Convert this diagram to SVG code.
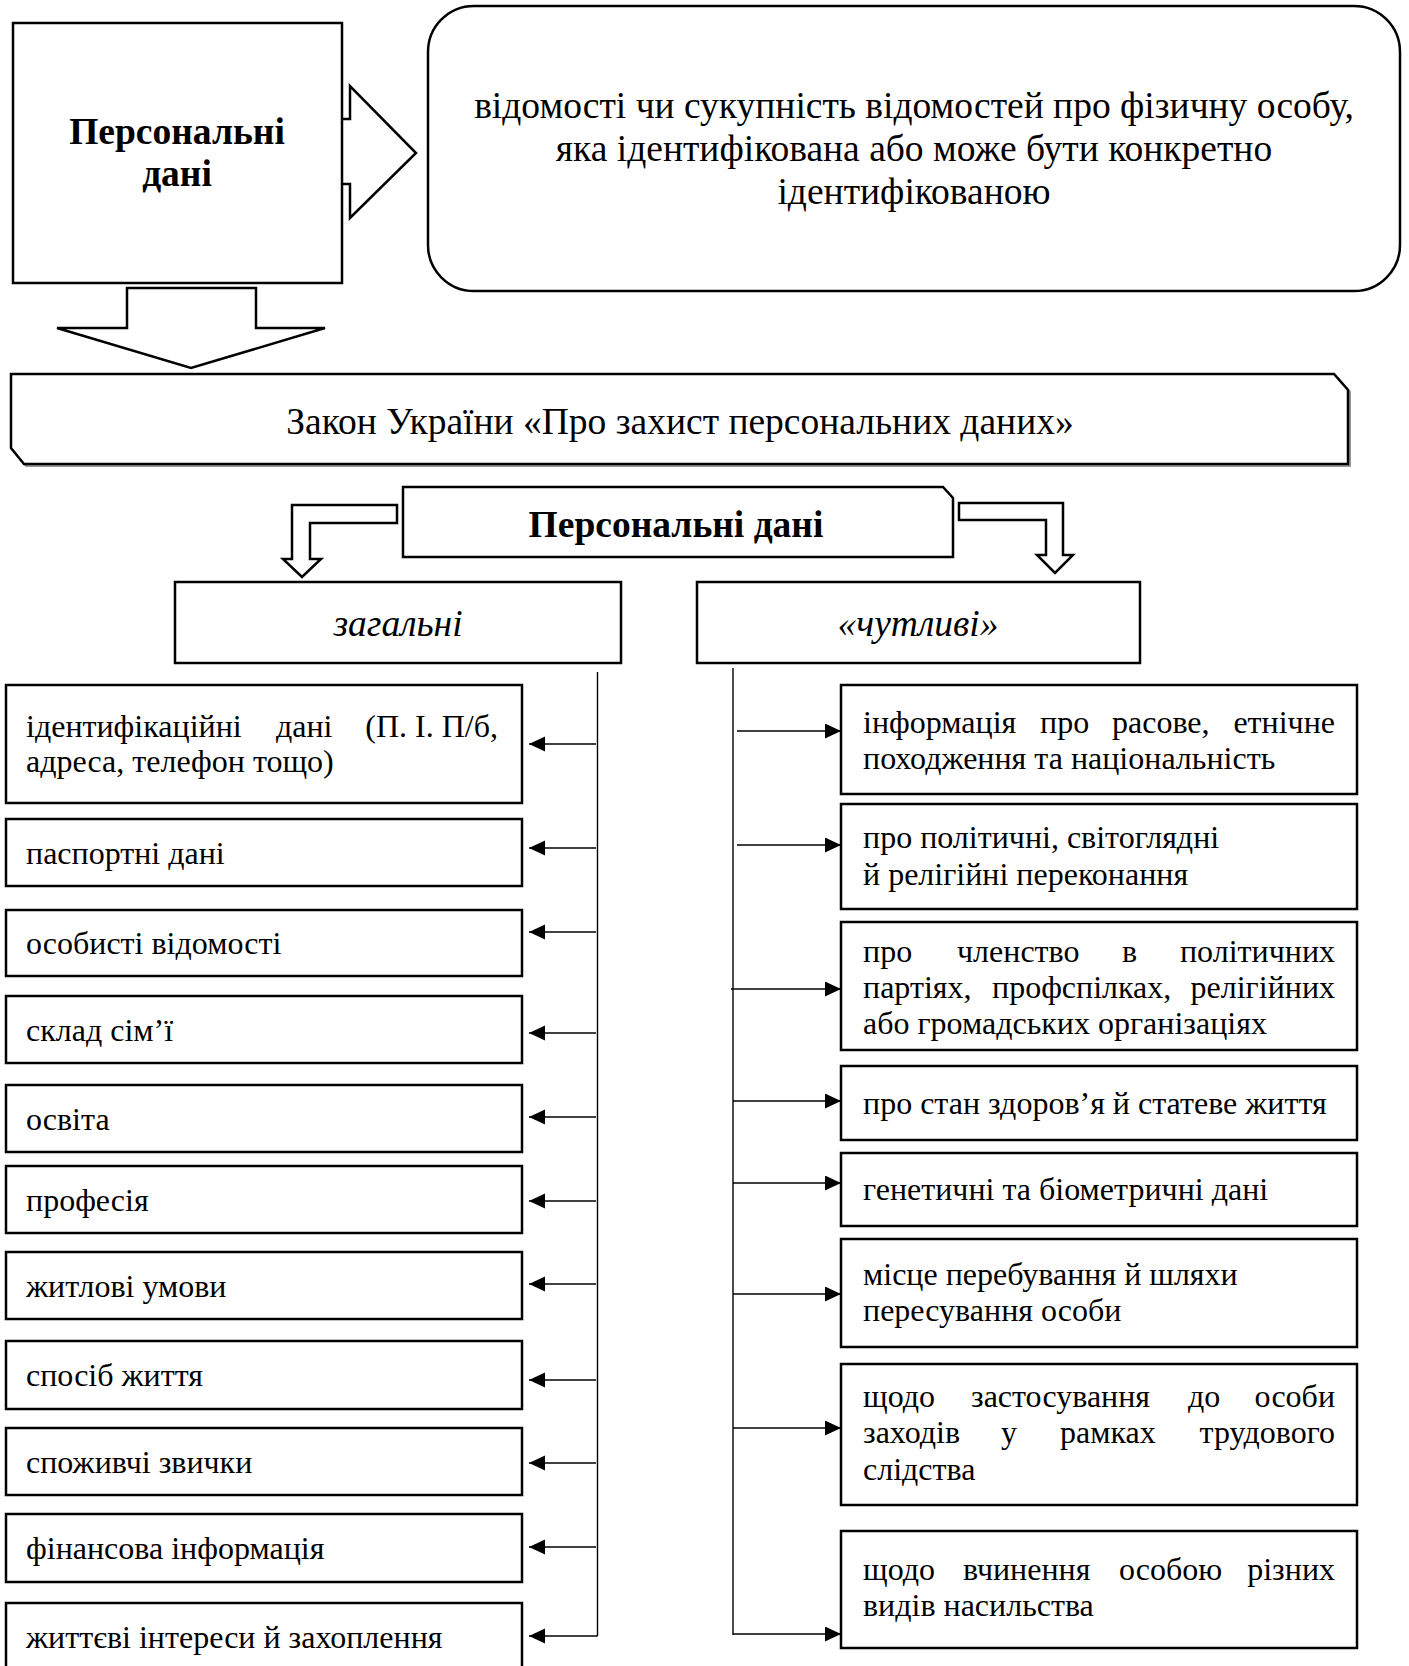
<svg xmlns="http://www.w3.org/2000/svg" width="1409" height="1666" viewBox="0 0 1409 1666">
<defs>
<style>
.box{fill:#fff;stroke:#000;stroke-width:2.5}
.blk{fill:#fff;stroke:#000;stroke-width:2.5;stroke-linejoin:miter}
.t{font-family:"Liberation Serif","Times New Roman",serif;font-size:32px;fill:#000}
.h{font-size:37.5px}
.b{font-weight:bold}
.i{font-style:italic}
.c{text-anchor:middle}
.e{text-anchor:end}
.conn{stroke:#000;stroke-width:1.4;fill:none}
.arr{stroke:#000;stroke-width:1.4;fill:none;marker-end:url(#ah)}
</style>
<marker id="ah" markerUnits="userSpaceOnUse" markerWidth="17" markerHeight="16" refX="16" refY="7.5" orient="auto">
<path d="M0,0 L16,7.5 L0,15 z" fill="#000"/>
</marker>
</defs>
<rect width="1409" height="1666" fill="#fff"/>

<g id="connectors">
<path class="blk" d="M342,119 L350,119 L350,86 L416,153 L350,218 L350,184 L342,184"/>
<path class="blk" d="M127,288 L256,288 L256,328 L325,328 L191,368 L57,328 L127,328 z"/>
<path class="blk" d="M397,505 L292,505 L292,559 L283,559 L302,577 L321,559 L310,559 L310,523 L397,523 z"/>
<path class="blk" d="M959,503 L1063,503 L1063,555 L1073,555 L1055,573 L1037,555 L1046,555 L1046,520 L959,520 z"/>
<line class="conn" x1="597.5" y1="672" x2="597.5" y2="1636"/>
<line class="conn" x1="733" y1="668" x2="733" y2="1635"/>
<line class="arr" x1="596" y1="744" x2="529" y2="744"/>
<line class="arr" x1="596" y1="848" x2="529" y2="848"/>
<line class="arr" x1="596" y1="932" x2="529" y2="932"/>
<line class="arr" x1="596" y1="1033" x2="529" y2="1033"/>
<line class="arr" x1="596" y1="1117" x2="529" y2="1117"/>
<line class="arr" x1="596" y1="1201" x2="529" y2="1201"/>
<line class="arr" x1="596" y1="1284" x2="529" y2="1284"/>
<line class="arr" x1="596" y1="1380" x2="529" y2="1380"/>
<line class="arr" x1="596" y1="1463" x2="529" y2="1463"/>
<line class="arr" x1="596" y1="1547" x2="529" y2="1547"/>
<line class="arr" x1="597.5" y1="1636" x2="529" y2="1636"/>
<line class="arr" x1="737" y1="731" x2="841" y2="731"/>
<line class="arr" x1="737" y1="845" x2="841" y2="845"/>
<line class="arr" x1="731" y1="989" x2="841" y2="989"/>
<line class="arr" x1="733" y1="1101" x2="841" y2="1101"/>
<line class="arr" x1="733" y1="1183" x2="841" y2="1183"/>
<line class="arr" x1="733" y1="1294" x2="841" y2="1294"/>
<line class="arr" x1="733" y1="1428" x2="841" y2="1428"/>
<line class="arr" x1="733" y1="1634" x2="841" y2="1634"/>
</g>

<g id="n-personal-top">
<rect class="box" x="13" y="23" width="329" height="260"/>
<text class="t h b c" x="177" y="144">Персональні</text>
<text class="t h b c" x="177" y="186">дані</text>
</g>

<g id="n-definition">
<rect class="box" x="428" y="6" width="972" height="285" rx="46" ry="46"/>
<text class="t h c" x="914" y="118">відомості чи сукупність відомостей про фізичну особу,</text>
<text class="t h c" x="914" y="161">яка ідентифікована або може бути конкретно</text>
<text class="t h c" x="914" y="204">ідентифікованою</text>
</g>

<g id="n-law">
<path d="M13,376 L1336,376 L1350,392 L1350,466 L26,466 L13,450 z" fill="none" stroke="#999" stroke-width="2"/>
<path class="box" d="M11,374 L1334,374 L1348,390 L1348,464 L24,464 L11,448 z"/>
<text class="t h c" x="680" y="434">Закон України «Про захист персональних даних»</text>
</g>

<g id="n-personal">
<path class="box" d="M403,487 L943,487 L953,498 L953,557 L403,557 z"/>
<text class="t h b c" x="676" y="537">Персональні дані</text>
</g>

<g id="n-general">
<rect class="box" x="175" y="582" width="446" height="81"/>
<text class="t h i c" x="398" y="636">загальні</text>
</g>

<g id="n-sensitive">
<rect class="box" x="697" y="582" width="443" height="81"/>
<text class="t h i c" x="918" y="636">«чутливі»</text>
</g>

<g id="g1"><rect class="box" x="6" y="685" width="516" height="118"/>
<text class="t" y="737"><tspan x="26">ідентифікаційні</tspan><tspan x="276">дані</tspan><tspan class="e" x="498">(П. І. П/б,</tspan></text>
<text class="t" x="26" y="772">адреса, телефон тощо)</text></g>
<g id="g2"><rect class="box" x="6" y="819" width="516" height="67"/><text class="t" x="26" y="864">паспортні дані</text></g>
<g id="g3"><rect class="box" x="6" y="910" width="516" height="66"/><text class="t" x="26" y="954">особисті відомості</text></g>
<g id="g4"><rect class="box" x="6" y="996" width="516" height="67"/><text class="t" x="26" y="1041">склад сім’ї</text></g>
<g id="g5"><rect class="box" x="6" y="1085" width="516" height="67"/><text class="t" x="26" y="1130">освіта</text></g>
<g id="g6"><rect class="box" x="6" y="1166" width="516" height="67"/><text class="t" x="26" y="1211">професія</text></g>
<g id="g7"><rect class="box" x="6" y="1252" width="516" height="67"/><text class="t" x="26" y="1297">житлові умови</text></g>
<g id="g8"><rect class="box" x="6" y="1341" width="516" height="68"/><text class="t" x="26" y="1386">спосіб життя</text></g>
<g id="g9"><rect class="box" x="6" y="1428" width="516" height="67"/><text class="t" x="26" y="1473">споживчі звички</text></g>
<g id="g10"><rect class="box" x="6" y="1514" width="516" height="68"/><text class="t" x="26" y="1559">фінансова інформація</text></g>
<g id="g11"><rect class="box" x="6" y="1603" width="516" height="90"/><text class="t" x="26" y="1648">життєві інтереси й захоплення</text></g>

<g id="s1"><rect class="box" x="841" y="685" width="516" height="109"/>
<text class="t" y="733"><tspan x="863">інформація</tspan><tspan x="1040">про</tspan><tspan x="1112">расове,</tspan><tspan class="e" x="1335">етнічне</tspan></text>
<text class="t" x="863" y="769">походження та національність</text></g>
<g id="s2"><rect class="box" x="841" y="804" width="516" height="105"/>
<text class="t" x="863" y="848">про політичні, світоглядні</text>
<text class="t" x="863" y="885">й релігійні переконання</text></g>
<g id="s3"><rect class="box" x="841" y="922" width="516" height="128"/>
<text class="t" y="962"><tspan x="863">про</tspan><tspan x="957">членство</tspan><tspan x="1122">в</tspan><tspan class="e" x="1335">політичних</tspan></text>
<text class="t" y="998"><tspan x="863">партіях,</tspan><tspan x="992">профспілках,</tspan><tspan class="e" x="1335">релігійних</tspan></text>
<text class="t" x="863" y="1034">або громадських організаціях</text></g>
<g id="s4"><rect class="box" x="841" y="1066" width="516" height="74"/><text class="t" x="863" y="1114">про стан здоров’я й статеве життя</text></g>
<g id="s5"><rect class="box" x="841" y="1153" width="516" height="73"/><text class="t" x="863" y="1200">генетичні та біометричні дані</text></g>
<g id="s6"><rect class="box" x="841" y="1239" width="516" height="108"/>
<text class="t" x="863" y="1285">місце перебування й шляхи</text>
<text class="t" x="863" y="1321">пересування особи</text></g>
<g id="s7"><rect class="box" x="841" y="1364" width="516" height="141"/>
<text class="t" y="1407"><tspan x="863">щодо</tspan><tspan x="971">застосування</tspan><tspan x="1188">до</tspan><tspan class="e" x="1335">особи</tspan></text>
<text class="t" y="1443"><tspan x="863">заходів</tspan><tspan x="1001">у</tspan><tspan x="1060">рамках</tspan><tspan class="e" x="1335">трудового</tspan></text>
<text class="t" x="863" y="1480">слідства</text></g>
<g id="s8"><rect class="box" x="841" y="1531" width="516" height="117"/>
<text class="t" y="1580"><tspan x="863">щодо</tspan><tspan x="963">вчинення</tspan><tspan x="1119">особою</tspan><tspan class="e" x="1335">різних</tspan></text>
<text class="t" x="863" y="1616">видів насильства</text></g>
</svg>
